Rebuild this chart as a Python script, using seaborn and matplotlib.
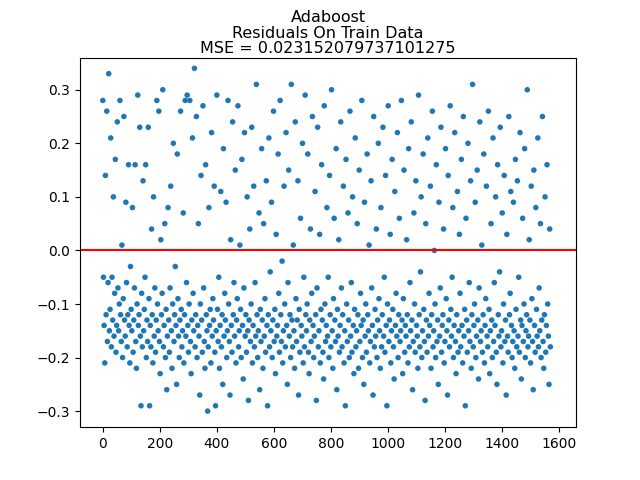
import numpy as np
import pandas as pd
import matplotlib
matplotlib.use("Agg")
import matplotlib.pyplot as plt
import seaborn as sns

residuals = [
0.28,-0.05,-0.14,-0.21,0.14,-0.12,0.26,-0.17,-0.06,0.33,-0.15,-0.11,0.21,-0.18,-0.05,-0.13,0.10,-0.16,-0.08,0.17,
-0.19,-0.14,0.24,-0.07,-0.15,-0.10,0.28,-0.12,-0.17,0.01,-0.20,-0.09,0.25,-0.13,-0.16,0.09,-0.06,-0.18,-0.12,0.16,
-0.14,-0.21,-0.03,-0.11,-0.15,0.08,-0.19,-0.13,-0.07,0.16,-0.17,-0.22,-0.10,0.29,-0.14,-0.12,0.23,-0.16,-0.29,-0.08,
-0.18,0.13,-0.15,-0.11,-0.05,0.16,-0.20,-0.13,-0.17,0.23,-0.09,-0.29,-0.14,-0.18,0.04,-0.12,-0.21,0.10,-0.16,-0.07,
-0.19,-0.13,0.28,-0.10,-0.15,0.26,-0.17,-0.23,0.02,-0.12,-0.08,0.30,-0.18,-0.14,0.05,-0.20,-0.11,-0.26,-0.16,0.08,
-0.13,-0.19,-0.07,0.12,-0.15,-0.22,-0.10,0.20,-0.17,-0.12,-0.03,-0.14,-0.25,0.18,-0.09,-0.16,-0.20,-0.13,0.26,-0.11,
-0.18,-0.15,0.07,-0.21,-0.12,0.28,-0.16,-0.06,0.29,-0.14,-0.19,-0.10,0.28,-0.17,-0.23,-0.13,0.21,-0.08,-0.15,0.34,
-0.18,-0.12,0.25,-0.20,-0.14,0.05,-0.16,-0.27,-0.10,0.14,-0.13,-0.19,0.27,-0.07,-0.17,-0.22,0.16,-0.12,-0.15,-0.30,
-0.18,0.08,-0.14,-0.11,-0.21,0.22,-0.16,-0.09,-0.13,0.12,-0.19,-0.29,-0.15,0.29,-0.11,-0.17,-0.05,-0.22,-0.14,0.11,
-0.18,-0.12,-0.25,0.19,-0.16,-0.08,-0.13,0.09,-0.20,-0.15,0.28,-0.10,-0.17,-0.27,0.02,-0.14,-0.19,0.24,-0.12,-0.06,
-0.16,0.15,-0.21,-0.13,-0.09,0.27,-0.18,-0.15,0.01,-0.11,-0.20,0.17,-0.14,-0.24,-0.07,0.22,-0.16,-0.12,-0.19,0.10,
-0.15,-0.28,-0.13,0.04,-0.17,-0.10,0.23,-0.21,-0.14,0.12,-0.18,-0.06,-0.16,0.31,-0.12,-0.20,-0.15,0.07,-0.26,-0.11,
-0.17,0.19,-0.13,-0.22,0.05,-0.16,-0.09,-0.19,0.13,-0.14,-0.29,-0.12,0.21,-0.18,-0.04,-0.15,0.09,-0.20,-0.13,0.26,
-0.17,-0.11,-0.23,0.03,-0.16,-0.14,0.18,-0.08,-0.19,0.28,-0.12,-0.17,-0.02,-0.21,-0.15,0.12,-0.10,-0.18,0.22,-0.14,
-0.25,-0.06,0.15,-0.16,-0.12,-0.20,0.31,-0.13,-0.18,0.01,-0.15,-0.22,0.24,-0.09,-0.17,-0.13,0.13,-0.27,-0.11,-0.19,
0.06,-0.14,-0.16,0.20,-0.21,-0.05,-0.18,0.29,-0.12,-0.15,-0.10,0.18,-0.19,-0.23,-0.13,0.04,-0.17,-0.08,0.25,-0.14,
-0.20,-0.16,0.11,-0.12,-0.28,-0.07,0.23,-0.18,-0.15,0.03,-0.21,-0.11,0.16,-0.13,-0.19,-0.24,0.27,-0.10,-0.17,-0.14,
0.08,-0.16,-0.05,-0.20,0.14,-0.12,-0.18,0.30,-0.15,-0.22,-0.09,0.06,-0.13,-0.17,0.19,-0.26,-0.11,-0.16,0.02,-0.19,
-0.14,0.24,-0.07,-0.18,-0.12,0.12,-0.21,-0.15,-0.29,0.17,-0.10,-0.17,0.07,-0.13,-0.20,0.26,-0.16,-0.06,-0.19,0.10,
-0.14,-0.23,-0.11,0.21,-0.18,-0.15,0.05,-0.12,-0.22,0.15,-0.17,-0.08,-0.14,0.28,-0.20,-0.13,-0.25,0.09,-0.16,-0.10,
-0.19,0.18,-0.12,-0.15,0.01,-0.21,-0.17,0.13,-0.07,-0.14,-0.27,0.25,-0.18,-0.11,-0.16,0.04,-0.20,-0.13,0.20,-0.09,
-0.15,-0.22,0.08,-0.18,-0.12,0.23,-0.16,-0.05,-0.19,0.14,-0.14,-0.29,-0.10,0.27,-0.17,-0.13,0.03,-0.21,-0.15,0.17,
-0.11,-0.18,-0.24,0.11,-0.14,-0.08,-0.16,0.22,-0.20,-0.12,0.06,-0.17,-0.15,0.28,-0.13,-0.23,-0.09,0.15,-0.19,-0.14,
-0.16,0.02,-0.12,-0.21,0.19,-0.18,-0.06,-0.15,0.24,-0.13,-0.26,-0.17,0.07,-0.10,-0.19,0.13,-0.14,-0.16,-0.22,0.29,
-0.12,-0.18,-0.04,0.10,-0.20,-0.15,0.18,-0.11,-0.17,-0.28,0.05,-0.13,-0.19,0.21,-0.16,-0.08,-0.14,0.12,-0.22,-0.12,
0.26,-0.18,-0.15,0.00,-0.10,-0.20,0.16,-0.17,-0.13,-0.25,0.09,-0.16,-0.07,0.23,-0.19,-0.14,-0.12,0.04,-0.21,-0.17,
0.19,-0.09,-0.15,-0.27,0.14,-0.13,-0.18,0.27,-0.11,-0.16,-0.05,0.08,-0.20,-0.14,0.22,-0.17,-0.23,-0.12,0.11,-0.19,
-0.15,0.03,-0.08,-0.18,0.17,-0.14,-0.21,0.25,-0.16,-0.11,-0.29,0.06,-0.13,-0.19,0.20,-0.15,-0.06,-0.17,0.13,-0.22,
-0.12,0.31,-0.18,-0.14,-0.10,0.09,-0.20,-0.16,0.15,-0.13,-0.24,-0.07,0.24,-0.17,-0.15,0.01,-0.19,-0.12,0.18,-0.21,
-0.14,-0.09,0.12,-0.16,-0.18,0.26,-0.11,-0.23,-0.15,0.05,-0.13,-0.20,0.21,-0.17,-0.06,-0.14,0.10,-0.19,-0.25,0.16,
-0.12,-0.16,-0.04,0.23,-0.18,-0.15,0.07,-0.21,-0.10,0.14,-0.17,-0.13,-0.27,0.03,-0.16,-0.19,0.25,-0.12,-0.08,0.11,
-0.14,-0.20,-0.17,0.09,-0.15,-0.22,0.17,-0.11,-0.18,0.13,-0.16,-0.05,-0.19,0.22,-0.13,-0.24,-0.14,0.06,-0.17,-0.10,
0.19,-0.20,-0.15,-0.12,0.30,-0.18,-0.16,0.02,-0.13,-0.21,0.12,-0.09,-0.17,-0.26,0.15,-0.14,-0.19,0.08,-0.11,-0.16,
0.21,-0.18,-0.07,-0.15,0.05,-0.20,-0.13,0.25,-0.17,-0.22,-0.12,0.10,-0.19,-0.14,0.16,-0.10,-0.16,-0.25,0.04,-0.18,
]

x_index = np.linspace(0, 1570, len(residuals))
df = pd.DataFrame({"index": x_index, "residual": residuals})

fig, ax = plt.subplots(figsize=(6.4, 4.8), dpi=100)
sns.scatterplot(data=df, x="index", y="residual", ax=ax, s=16, color="#1f77b4",
                edgecolor="none", linewidth=0)
ax.axhline(0, color="red", linewidth=1.5)
ax.set_xlabel("")
ax.set_ylabel("")
ax.set_xticks([0, 200, 400, 600, 800, 1000, 1200, 1400, 1600])
ax.set_yticks([-0.3, -0.2, -0.1, 0.0, 0.1, 0.2, 0.3])
ax.set_xlim(-80, 1660)
ax.set_ylim(-0.33, 0.36)
ax.set_title("Adaboost\nResiduals On Train Data\nMSE = 0.023152079737101275",
             fontsize=11.5, pad=3, linespacing=1.05)
fig.subplots_adjust(left=0.125, right=0.9, bottom=0.11, top=0.88)
fig.savefig("out.png", dpi=100)
